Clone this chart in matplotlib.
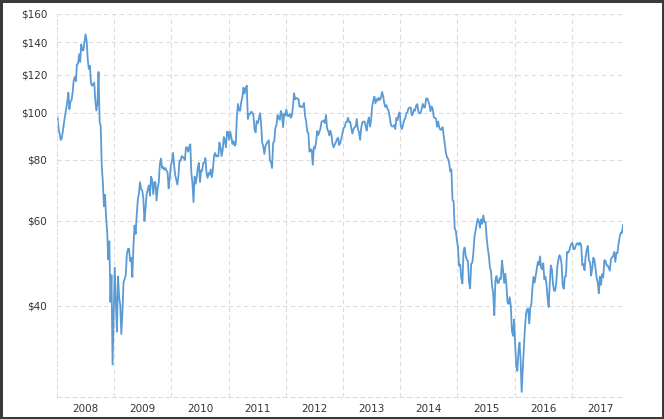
import numpy as np
import matplotlib
matplotlib.use('Agg')
import matplotlib.pyplot as plt
from matplotlib.ticker import FixedLocator, NullLocator, FuncFormatter

# Prix hebdomadaires (USD / baril), une liste par année
p2008 = [97.9, 92.7, 90.6, 88.0, 88.9, 91.8, 95.5, 98.8, 101.8, 105.2, 110.2, 101.8, 105.6,
         106.2, 110.1, 116.7, 118.5, 116.3, 125.9, 126.3, 132.2, 127.4, 138.5, 134.9, 134.6, 140.2,
         145.3, 141.0, 128.9, 123.3, 125.1, 115.2, 113.8, 114.6, 115.5, 106.2, 101.2, 104.6, 121.5,
         96.0, 93.9, 77.7, 71.9, 64.2, 67.8, 61.0, 57.0, 49.9, 54.4, 40.8, 46.3, 30.3, 37.7]
p2009 = [48.0, 40.8, 35.4, 46.0, 41.7, 40.2, 35.0, 38.9, 44.8, 45.5, 46.3, 51.1, 52.4,
         52.5, 49.5, 50.3, 45.9, 53.2, 58.6, 56.3, 61.7, 66.3, 68.4, 72.0, 69.6, 69.2,
         66.7, 59.9, 63.6, 68.1, 69.5, 70.9, 67.5, 73.9, 72.7, 68.0, 72.0, 72.0, 66.0,
         69.9, 71.8, 78.5, 80.5, 77.0, 77.4, 76.4, 77.0, 76.1, 75.5, 69.9, 73.4, 78.0]
p2010 = [79.4, 82.7, 78.0, 74.5, 72.9, 71.2, 74.1, 79.8, 79.7, 81.5, 81.2, 80.7, 80.0,
         84.9, 84.9, 83.2, 85.1, 86.2, 75.1, 71.6, 65.5, 73.9, 71.5, 73.8, 77.2, 78.9,
         72.1, 76.1, 76.0, 78.9, 79.0, 80.7, 75.4, 73.5, 75.2, 74.6, 76.5, 73.7, 76.5,
         81.6, 82.7, 81.3, 81.7, 81.4, 86.9, 84.9, 81.5, 83.8, 89.2, 87.8, 85.0, 91.5, 91.4]
p2011 = [88.0, 91.5, 89.1, 86.3, 87.5, 85.6, 86.2, 98.0, 104.4, 101.2, 101.1, 105.4,
         107.9, 112.8, 109.7, 112.3, 113.9, 97.2, 99.6, 99.5, 100.6, 100.2, 99.3, 93.0, 91.2,
         96.2, 95.2, 97.2, 99.9, 95.7, 86.9, 85.4, 82.3, 85.4, 86.5, 87.2, 87.9, 79.9, 79.2,
         77.0, 86.8, 87.4, 93.3, 94.3, 99.0, 97.7, 96.8, 101.0, 99.4, 93.5, 99.7, 98.8]
p2012 = [101.6, 98.7, 98.5, 99.6, 97.8, 98.7, 103.2, 109.8, 106.7, 107.4, 107.1, 106.9, 103.0,
         103.3, 102.8, 103.1, 104.9, 98.5, 96.1, 91.5, 90.9, 83.2, 84.1, 84.0, 78.2, 85.0,
         84.5, 87.1, 91.8, 90.1, 91.4, 92.9, 96.0, 96.2, 96.5, 95.3, 99.0, 92.9, 91.9,
         89.9, 91.9, 90.1, 86.3, 84.9, 86.1, 87.0, 88.3, 88.9, 85.9, 86.7, 88.7, 90.8]
p2013 = [93.1, 93.6, 95.6, 95.9, 97.8, 95.7, 95.9, 93.1, 90.7, 92.5, 93.5, 93.7, 97.2,
         92.7, 91.3, 88.0, 93.0, 95.6, 96.0, 96.0, 94.2, 92.0, 96.0, 97.9, 93.7, 96.6,
         103.2, 106.0, 108.1, 104.7, 106.9, 106.0, 107.5, 106.4, 107.7, 110.5, 108.2, 104.7, 102.9,
         103.8, 102.0, 100.8, 97.9, 94.6, 93.8, 93.8, 94.4, 92.7, 97.7, 96.6, 99.3, 100.3]
p2014 = [94.0, 92.7, 94.4, 96.6, 97.5, 99.9, 100.3, 102.2, 102.6, 102.6, 98.9, 99.5, 101.7,
         101.1, 103.7, 104.3, 100.6, 99.8, 100.0, 102.0, 104.4, 102.7, 102.7, 106.9, 107.3, 105.7,
         104.1, 100.8, 103.1, 102.1, 97.9, 97.7, 97.4, 93.7, 96.0, 93.3, 92.3, 92.4, 93.5,
         89.7, 85.8, 82.8, 81.0, 80.5, 78.7, 75.8, 76.5, 66.2, 65.8, 57.8, 57.1, 54.7]
p2015 = [52.7, 48.4, 48.7, 45.6, 44.5, 51.7, 52.8, 50.8, 49.8, 49.6, 44.8, 43.5, 48.9,
         49.1, 51.6, 55.7, 57.2, 59.2, 60.5, 59.7, 58.0, 60.3, 59.1, 61.5, 59.6, 59.6,
         55.5, 52.7, 50.9, 48.1, 47.1, 43.9, 42.5, 38.3, 45.2, 46.1, 44.6, 44.7, 45.7,
         45.5, 49.6, 47.3, 44.6, 46.6, 44.3, 40.7, 40.4, 41.7, 40.0, 35.6, 34.7, 37.5]
p2016 = [33.2, 30.0, 29.4, 32.2, 33.6, 30.9, 26.6, 29.6, 32.8, 35.9, 38.5, 39.4, 39.5,
         36.8, 39.7, 40.4, 43.7, 45.9, 44.7, 46.2, 47.8, 49.3, 48.6, 50.6, 47.98, 47.6,
         48.99, 45.4, 45.95, 44.2, 41.6, 39.8, 44.5, 48.5, 47.6, 44.4, 43.0, 43.0, 44.5, 48.2,
         49.8, 50.9, 50.4, 48.7, 44.1, 43.4, 46.0, 46.1, 51.7, 51.5, 51.9, 53.0, 53.7]
p2017 = [54.0, 52.4, 52.4, 53.2, 53.8, 53.9, 53.4, 54.0, 53.3, 48.5, 48.8, 47.4, 50.6,
         52.2, 53.2, 49.6, 49.3, 46.2, 47.8, 50.3, 49.8, 47.7, 45.8, 44.7, 42.5, 46.0,
         44.2, 46.5, 45.8, 49.7, 49.6, 48.5, 48.5, 47.9, 47.3, 49.9, 50.4, 50.7, 51.7,
         49.3, 51.5, 51.5, 53.9, 55.6, 56.7, 56.6, 58.7]

annees = list(range(2008, 2018))
prix_par_annee = [p2008, p2009, p2010, p2011, p2012, p2013, p2014, p2015, p2016, p2017]
yticks = [40, 60, 80, 100, 120, 140, 160]

# Axe des x en années décimales (une semaine = 1/52 d'année pour la dernière année partielle)
x = []
y = []
for an, vals in zip(annees, prix_par_annee):
    n = max(len(vals), 52)
    for i, v in enumerate(vals):
        x.append(an + (i + 0.5) / n)
        y.append(v)

fig = plt.figure(figsize=(6.64, 4.19), dpi=100)
fig.patch.set_edgecolor('#3a3a3a')
fig.patch.set_linewidth(2.5)
ax = fig.add_axes([0.0858, 0.0532, 0.8525, 0.9134])

ax.plot(x, y, color='#5b9bd5', linewidth=1.3)

ax.set_yscale('log')
ax.set_ylim(26, 160)
ax.set_xlim(2008, x[-1])

ax.yaxis.set_major_locator(FixedLocator(yticks))
ax.yaxis.set_minor_locator(NullLocator())
ax.yaxis.set_major_formatter(FuncFormatter(lambda v, p: f'${v:.0f}'))

# grille aux débuts d'année, étiquettes au milieu de l'année
ax.xaxis.set_major_locator(FixedLocator(annees))
ax.xaxis.set_major_formatter(FuncFormatter(lambda v, p: ''))
ax.xaxis.set_minor_locator(FixedLocator([a + 0.5 for a in annees]))
ax.xaxis.set_minor_formatter(FuncFormatter(lambda v, p: f'{int(v)}'))

ax.tick_params(axis='both', which='both', length=0, labelsize=7.5, labelcolor='#333333')
ax.tick_params(axis='y', pad=7)
ax.tick_params(axis='x', which='minor', pad=5)

ax.grid(True, which='major', color='#dcdcdc', linestyle=(0, (4, 3)), linewidth=0.8)
for s in ['top', 'right']:
    ax.spines[s].set_visible(False)
for s in ['left', 'bottom']:
    ax.spines[s].set_color('#dcdcdc')
    ax.spines[s].set_linestyle((0, (4, 3)))
    ax.spines[s].set_linewidth(0.8)

fig.savefig('out.png', dpi=100, edgecolor=fig.get_edgecolor())
